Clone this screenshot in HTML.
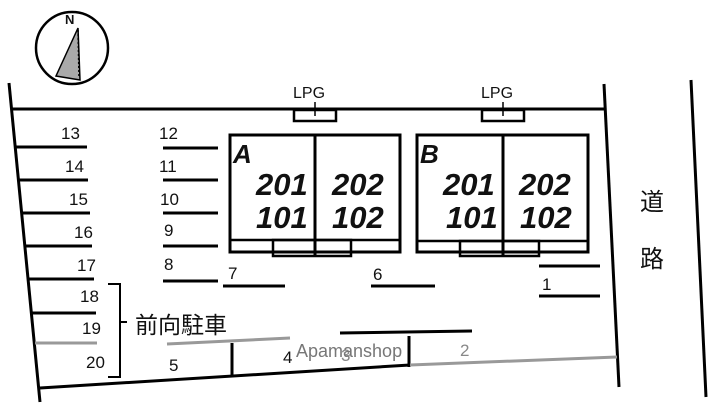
<!DOCTYPE html>
<html><head><meta charset="utf-8"><style>
html,body{margin:0;padding:0;background:#fff;width:720px;height:406px;overflow:hidden}
svg{display:block}
text{font-family:"Liberation Sans","Noto Sans CJK JP",sans-serif;fill:#111}
.n{font-size:17px}
.b{font-size:31px;font-weight:bold;font-style:italic}
</style></head><body>
<svg width="720" height="406" viewBox="0 0 720 406" xmlns="http://www.w3.org/2000/svg">
<g stroke="#000" fill="none" stroke-width="3">
<circle cx="72" cy="48" r="36" stroke-width="2.5"/>
<line x1="9" y1="83" x2="40" y2="402"/>
<line x1="12" y1="109" x2="606" y2="109"/>
<line x1="604" y1="84" x2="619" y2="387"/>
<line x1="691" y1="80" x2="706" y2="397"/>
<line x1="40" y1="388" x2="410" y2="365"/>
<line x1="409" y1="336" x2="409" y2="367"/>
<line x1="232" y1="343" x2="232" y2="377"/>
<line x1="340" y1="333" x2="472" y2="331"/>
<line x1="14" y1="147" x2="87" y2="147"/>
<line x1="18" y1="180" x2="88" y2="180"/>
<line x1="21" y1="213" x2="90" y2="213"/>
<line x1="24" y1="246" x2="92" y2="246"/>
<line x1="28" y1="279" x2="94" y2="279"/>
<line x1="31" y1="313" x2="96" y2="313"/>
<line x1="163" y1="148" x2="218" y2="148"/>
<line x1="163" y1="180" x2="218" y2="180"/>
<line x1="163" y1="213" x2="218" y2="213"/>
<line x1="163" y1="246" x2="218" y2="246"/>
<line x1="163" y1="281" x2="218" y2="281"/>
<line x1="223" y1="286" x2="285" y2="286"/>
<line x1="371" y1="286" x2="435" y2="286"/>
<line x1="539" y1="266" x2="600" y2="266"/>
<line x1="539" y1="296" x2="600" y2="296"/>
<polyline points="108,284 120,284 120,377 108,377" stroke-width="2"/>
<line x1="120" y1="322" x2="127" y2="322" stroke-width="2"/>
<rect x="294" y="110" width="42" height="11" stroke-width="2.5"/>
<line x1="315" y1="102" x2="315" y2="116" stroke-width="1.5"/>
<rect x="482" y="110" width="42" height="11" stroke-width="2.5"/>
<line x1="503" y1="102" x2="503" y2="116" stroke-width="1.5"/>
<rect x="230" y="135" width="170" height="117"/>
<line x1="315" y1="135" x2="315" y2="256"/>
<line x1="230" y1="240" x2="400" y2="240" stroke-width="2.5"/>
<rect x="273" y="240" width="78" height="16" stroke-width="2.5"/>
<rect x="417" y="135" width="171" height="117"/>
<line x1="503" y1="135" x2="503" y2="256"/>
<line x1="417" y1="241" x2="588" y2="241" stroke-width="2.5"/>
<rect x="460" y="241" width="79" height="15" stroke-width="2.5"/>
</g>
<g stroke="#999" stroke-width="3" fill="none">
<line x1="35" y1="343" x2="97" y2="343"/>
<line x1="167" y1="344" x2="290" y2="338"/>
<line x1="410" y1="365" x2="617" y2="357"/>
</g>
<polygon points="78,28 80,80 56,76" fill="#aaa" stroke="#000" stroke-width="1.5"/>
<line x1="78" y1="30" x2="79" y2="78" stroke="#000" stroke-width="1.5" stroke-dasharray="2,2"/>
<text x="65" y="24" style="font-size:13px;font-weight:bold">N</text>
<text x="293" y="98" style="font-size:16px">LPG</text>
<text x="481" y="98" style="font-size:16px">LPG</text>
<text x="233" y="163" style="font-size:26px;font-weight:bold;font-style:italic">A</text>
<text x="420" y="163" style="font-size:26px;font-weight:bold;font-style:italic">B</text>
<text class="b" x="256" y="195">201</text><text class="b" x="256" y="228">101</text>
<text class="b" x="332" y="195">202</text><text class="b" x="332" y="228">102</text>
<text class="b" x="443" y="195">201</text><text class="b" x="446" y="228">101</text>
<text class="b" x="519" y="195">202</text><text class="b" x="520" y="228">102</text>
<text class="n" x="61" y="139">13</text><text class="n" x="65" y="172">14</text>
<text class="n" x="69" y="205">15</text><text class="n" x="74" y="238">16</text>
<text class="n" x="77" y="271">17</text><text class="n" x="80" y="302">18</text>
<text class="n" x="82" y="334">19</text><text class="n" x="86" y="368">20</text>
<text class="n" x="159" y="139">12</text><text class="n" x="159" y="172">11</text>
<text class="n" x="160" y="205">10</text><text class="n" x="164" y="236">9</text>
<text class="n" x="164" y="270">8</text><text class="n" x="228" y="279">7</text>
<text class="n" x="373" y="280">6</text><text class="n" x="542" y="290">1</text>
<text class="n" x="169" y="371">5</text><text class="n" x="283" y="363">4</text>
<text class="n" x="341" y="361" style="fill:#888">3</text>
<text class="n" x="460" y="356" style="fill:#888">2</text>
<text x="135" y="333" style="font-size:23px">前向駐車</text>
<text x="296" y="357" style="font-size:18px;fill:#777">Apamanshop</text>
<text x="640" y="210" style="font-size:24px">道</text>
<text x="640" y="267" style="font-size:24px">路</text>
</svg>
</body></html>
